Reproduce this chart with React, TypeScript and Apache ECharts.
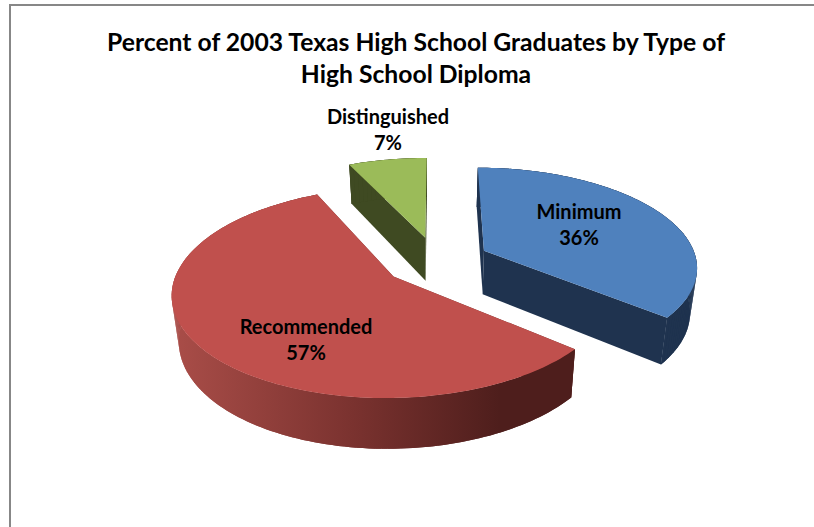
import React, { useEffect, useRef } from "react";
import * as echarts from "echarts";

// Diploma shares, percent of graduates.
const diplomaTypes = ["Minimum", "Recommended", "Distinguished"];
const diplomaShares = [36, 57, 7];

const chartTitle =
  "Percent of 2003 Texas High School Graduates by Type of\nHigh School Diploma";

const topColors = ["#4f81bd", "#c0504d", "#9bbb59"];
const sideColors = ["#1f334f", "#6f2c29", "#3f4a22"];

// Camera used to flatten the pie into the page.
const VIEW = { ox: 436.5, oy: 261, rx: 213, ry: 98.3, persp: 0.15, depth: 44, shrink: 0.973, explode: 0.25 };
const labelCentres = [
  [579, 224],
  [306, 339],
  [388, 129],
];
const FONT = "Lato, 'Open Sans', sans-serif";

const perspective = (v: number) => 1 - VIEW.persp * v;
const topPoint = (u: number, v: number): number[] => {
  const w = perspective(v);
  return [VIEW.ox + (VIEW.rx * u) / w, VIEW.oy + (VIEW.ry * v) / w];
};
const bottomPoint = (u: number, v: number): number[] => {
  const [x, y] = topPoint(u, v);
  return [VIEW.ox + (x - VIEW.ox) * VIEW.shrink, y + VIEW.depth / Math.pow(perspective(v), 0.75)];
};

const renderSlice = (params: any, api: any) => {
  const i = params.dataIndex;
  const total = diplomaShares.reduce((a, b) => a + b, 0);
  const before = diplomaShares.slice(0, i).reduce((a, b) => a + b, 0);
  const share = api.value(0);
  const start = -Math.PI / 2 + (before / total) * 2 * Math.PI;
  const sweep = (share / total) * 2 * Math.PI;
  const mid = start + sweep / 2;
  const cu = VIEW.explode * Math.cos(mid);
  const cv = VIEW.explode * Math.sin(mid);

  const steps = Math.max(12, Math.round(sweep * 40));
  const rim: number[][] = [];
  for (let k = 0; k <= steps; k++) {
    const t = start + (sweep * k) / steps;
    rim.push([cu + Math.cos(t), cv + Math.sin(t)]);
  }
  const topRim = rim.map(([u, v]) => topPoint(u, v));
  const bottomRim = rim.map(([u, v]) => bottomPoint(u, v));
  const apexTop = topPoint(cu, cv);
  const apexBottom = bottomPoint(cu, cv);

  const sideFill =
    i === 1
      ? new echarts.graphic.LinearGradient(
          175,
          0,
          500,
          0,
          [
            { offset: 0, color: "#a94d48" },
            { offset: 0.55, color: "#7a322f" },
            { offset: 1, color: "#4e1e1c" },
          ],
          true
        )
      : sideColors[i];

  const polygon = (points: number[][], fill: any) => ({
    type: "polygon",
    shape: { points },
    style: { fill },
    silent: true,
  });

  // The wall is swept strip by strip so its outline stays tangent at the widest point.
  const strips = [];
  for (let k = 0; k < steps; k++) {
    strips.push(polygon([topRim[k], topRim[k + 1], bottomRim[k + 1], bottomRim[k]], sideFill));
  }

  return {
    type: "group",
    children: [
      polygon([apexTop, topRim[0], bottomRim[0], apexBottom], sideColors[i]),
      polygon([apexTop, topRim[steps], bottomRim[steps], apexBottom], sideColors[i]),
      polygon([...topRim, ...bottomRim.slice().reverse()], sideFill),
      ...strips,
      polygon([apexTop, ...topRim], topColors[i]),
      {
        type: "text",
        x: labelCentres[i][0],
        y: labelCentres[i][1],
        style: {
          text: `${diplomaTypes[i]}\n${share}%`,
          fill: "#000",
          font: `bold 20px ${FONT}`,
          lineHeight: 26,
          align: "center",
          verticalAlign: "middle",
        },
      },
    ],
  };
};

export default function App() {
  const ref = useRef<HTMLDivElement>(null);
  useEffect(() => {
    const chart = echarts.init(ref.current!, undefined, { renderer: "svg" });
    chart.setOption({
      animation: false,
      backgroundColor: "#ffffff",
      title: {
        text: chartTitle,
        left: 411,
        top: 20,
        textAlign: "center",
        textStyle: { fontFamily: FONT, fontSize: 24.7, fontWeight: "bold", color: "#000", lineHeight: 32 },
      },
      graphic: [
        {
          type: "polyline",
          shape: { points: [[10, 527], [10, 5], [814, 5]] },
          style: { stroke: "#878787", lineWidth: 2, fill: "none" },
          silent: true,
        },
      ],
      series: [
        {
          type: "custom",
          coordinateSystem: "none",
          renderItem: renderSlice,
          data: diplomaShares.map((value, i) => ({ name: diplomaTypes[i], value: [value] })),
        },
      ],
    });
    return () => chart.dispose();
  }, []);
  return <div ref={ref} style={{ position: "absolute", left: 0, top: 0, width: 814, height: 527 }} />;
}
